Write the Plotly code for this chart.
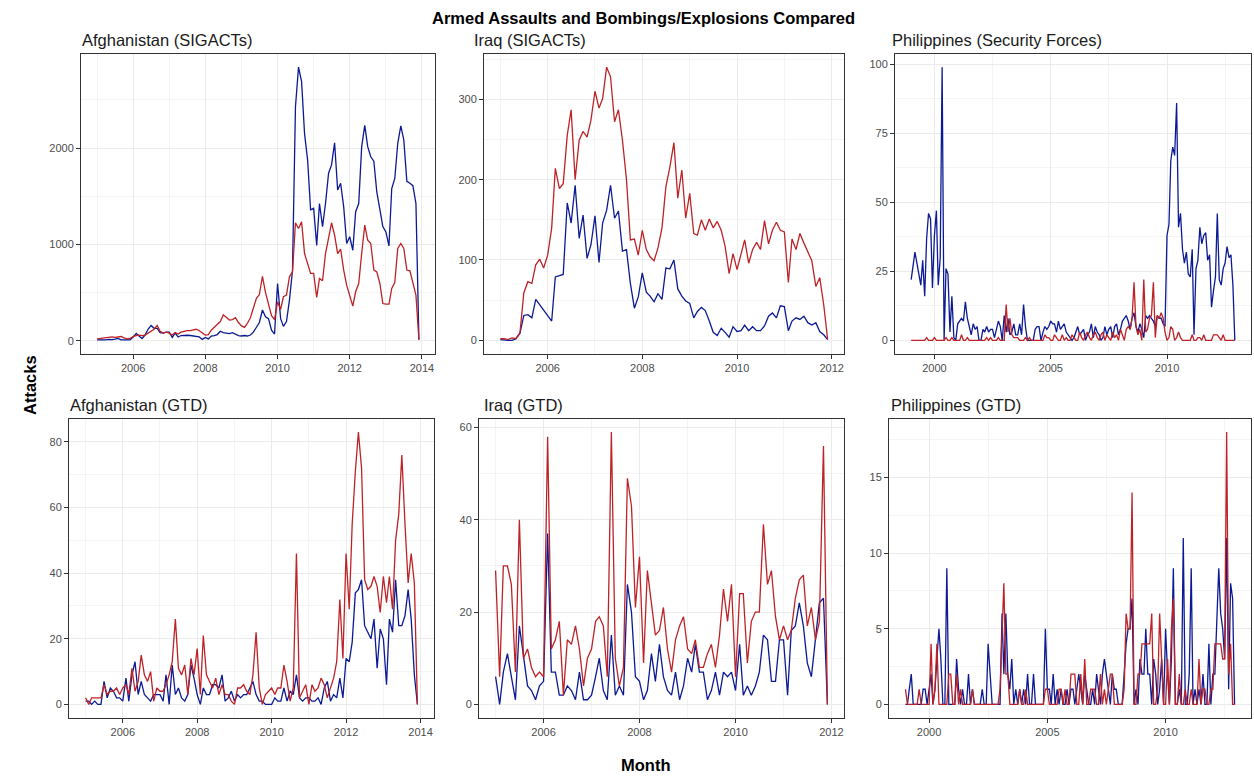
import pandas as pd
import plotly.graph_objects as go

W, H = 1254, 776

# ---------------------------------------------------------------- data
MONTHS_AFG = pd.date_range("2005-01-01", "2013-12-01", freq="MS")
MONTHS_IRQ = pd.date_range("2005-01-01", "2011-12-01", freq="MS")
MONTHS_PHL = pd.date_range("1999-01-01", "2012-12-01", freq="MS")

# Afghanistan, SIGACTs
AFG_SIG_ASSAULT = [
    10, 8, 5, 10, 15, 12, 18, 25, 10, 8, 5, 10,
    40, 76, 50, 24, 60, 120, 160, 130, 130, 85, 80, 90,
    90, 35, 80, 40, 55, 60, 58, 55, 50, 45, 40, 15,
    35, 20, 50, 55, 65, 100, 85, 80, 75, 85, 70, 55,
    50, 55, 50, 60, 90, 140, 190, 320, 250, 230, 110, 70,
    595, 230, 150, 200, 420, 730, 2430, 2840, 2690, 2150, 1875, 1360,
    1375, 990, 1425, 1185, 1425, 1740, 1825, 2055, 1565, 1635, 1390, 1010,
    1080, 940, 1340, 1425, 2015, 2235, 2015, 1910, 1865, 1545, 1355, 1185,
    1130, 985, 1580, 1685, 2050, 2230, 2085, 1655, 1635, 1610, 1425, 10,
]
AFG_SIG_BOMBING = [
    20, 25, 30, 28, 35, 40, 35, 40, 45, 30, 20, 25,
    45, 55, 60, 55, 60, 80, 100, 120, 160, 100, 80, 90,
    80, 60, 85, 70, 90, 100, 105, 105, 110, 120, 105, 80,
    60, 65, 110, 140, 170, 200, 270, 240, 215, 220, 240, 190,
    155, 140, 180, 240, 330, 440, 480, 670, 500, 380, 260, 220,
    405, 325, 457, 474, 664, 716, 1225, 1166, 1235, 906, 803, 699,
    699, 450, 647, 623, 906, 1080, 1225, 1097, 906, 951, 734, 578,
    474, 360, 509, 595, 906, 1200, 1045, 1010, 734, 716, 595, 387,
    380, 380, 543, 605, 958, 1010, 958, 734, 726, 612, 474, 14,
]

# Iraq, SIGACTs
IRQ_SIG_ASSAULT = [
    1, 0, 0, 0, 2, 9, 31, 32, 28, 51, 44, 38,
    30, 24, 79, 81, 82, 171, 146, 193, 127, 156, 102, 119,
    155, 97, 146, 162, 193, 152, 161, 111, 113, 71, 40, 54,
    84, 60, 55, 48, 58, 51, 90, 89, 100, 64, 55, 49,
    46, 28, 36, 41, 37, 24, 10, 6, 15, 10, 4, 17,
    11, 12, 19, 12, 17, 12, 12, 18, 30, 34, 28, 43,
    42, 12, 24, 28, 26, 30, 22, 19, 22, 11, 7, 1,
]
IRQ_SIG_BOMBING = [
    2, 2, 1, 3, 2, 9, 59, 73, 71, 94, 101, 90,
    106, 140, 214, 189, 195, 255, 287, 200, 249, 260, 253, 274,
    310, 289, 301, 340, 328, 272, 287, 249, 200, 125, 126, 106,
    137, 113, 104, 99, 115, 140, 191, 216, 246, 177, 212, 152,
    183, 133, 131, 150, 137, 151, 140, 148, 137, 117, 83, 108,
    88, 108, 125, 96, 113, 122, 113, 149, 120, 137, 147, 137,
    135, 72, 126, 113, 133, 121, 111, 99, 67, 78, 44, 1,
]

# Philippines, security forces reporting
PHL_SF_ASSAULT = [
    22, 28, 32, 28, 24, 20, 29, 16, 37, 46, 44, 19,
    38, 47, 20, 30, 99, 0, 26, 24, 3, 16, 1, 0,
    6, 7, 8, 7, 14, 8, 5, 2, 6, 4, 5, 0,
    0, 4, 3, 5, 3, 4, 4, 1, 4, 7, 5, 0,
    9, 3, 8, 2, 3, 6, 2, 2, 6, 2, 13, 5,
    0, 0, 0, 0, 4, 5, 5, 0, 3, 5, 4, 5,
    7, 6, 6, 3, 7, 4, 5, 6, 3, 2, 1, 0,
    1, 3, 5, 2, 3, 4, 0, 2, 3, 6, 1, 5,
    3, 2, 0, 1, 5, 2, 4, 5, 1, 5, 6, 2,
    4, 7, 8, 9, 7, 4, 8, 10, 5, 3, 6, 4,
    1, 9, 8, 9, 8, 7, 5, 9, 8, 8, 6, 5,
    38, 42, 65, 70, 67, 86, 41, 46, 33, 28, 32, 24,
    23, 33, 2, 26, 29, 41, 35, 38, 39, 29, 31, 12,
    18, 23, 46, 22, 20, 26, 28, 34, 30, 31, 20, 0,
]
PHL_SF_BOMBING = [
    0, 0, 0, 0, 0, 0, 0, 0, 1, 0, 0, 0,
    1, 0, 0, 0, 0, 0, 1, 0, 0, 1, 0, 0,
    0, 0, 2, 0, 0, 1, 0, 0, 0, 0, 0, 0,
    0, 0, 0, 1, 0, 1, 0, 0, 0, 1, 0, 0,
    0, 13, 3, 8, 2, 1, 1, 1, 0, 0, 0, 1,
    0, 1, 0, 0, 0, 0, 0, 0, 0, 2, 1, 1,
    0, 0, 2, 1, 0, 0, 2, 0, 1, 0, 0, 2,
    1, 0, 0, 3, 1, 0, 2, 3, 1, 0, 2, 3,
    1, 0, 2, 3, 0, 2, 1, 0, 3, 1, 2, 0,
    4, 2, 0, 4, 5, 4, 8, 21, 5, 2, 4, 0,
    22, 3, 4, 8, 9, 21, 1, 9, 8, 10, 8, 3,
    0, 1, 5, 4, 0, 1, 3, 1, 0, 0, 0, 0,
    0, 2, 0, 0, 1, 1, 0, 2, 0, 0, 0, 0,
    2, 2, 2, 1, 0, 2, 0, 0, 0, 0, 0, 0,
]

# Afghanistan, GTD
AFG_GTD_ASSAULT = [
    1, 1, 0, 1, 0, 0, 7, 2, 5, 4, 2, 2,
    1, 8, 1, 9, 13, 3, 7, 3, 2, 1, 3, 3,
    3, 1, 9, 0, 12, 3, 5, 2, 1, 3, 12, 8,
    3, 0, 5, 3, 3, 6, 6, 5, 9, 1, 2, 4,
    1, 3, 2, 3, 3, 5, 7, 3, 1, 1, 0, 0,
    0, 2, 1, 1, 5, 1, 4, 3, 9, 2, 1, 2,
    2, 1, 1, 2, 0, 5, 7, 1, 3, 2, 8, 2,
    14, 13, 19, 34, 35, 38, 24, 22, 20, 26, 11, 23,
    20, 6, 26, 22, 38, 24, 24, 27, 35, 26, 9, 0,
]
AFG_GTD_BOMBING = [
    2, 0, 2, 2, 2, 2, 6, 3, 4, 4, 5, 3,
    5, 6, 3, 11, 4, 7, 15, 9, 7, 10, 1, 5,
    4, 4, 6, 9, 13, 26, 11, 9, 12, 3, 14, 9,
    17, 3, 21, 9, 7, 5, 8, 3, 6, 3, 3, 1,
    0, 5, 5, 6, 4, 3, 9, 22, 5, 0, 3, 4,
    5, 3, 5, 5, 12, 7, 1, 5, 46, 2, 4, 6,
    0, 6, 4, 5, 8, 6, 2, 5, 8, 13, 32, 14,
    46, 29, 55, 71, 83, 72, 38, 35, 36, 39, 36, 28,
    39, 31, 39, 29, 50, 58, 76, 55, 37, 46, 37, 0,
]

# Iraq, GTD
IRQ_GTD_ASSAULT = [
    6, 0, 7, 11, 6, 1, 17, 10, 4, 3, 1, 4,
    5, 37, 7, 7, 2, 2, 4, 3, 1, 7, 1, 1,
    2, 6, 10, 3, 1, 15, 2, 4, 2, 26, 20, 6,
    5, 1, 3, 11, 5, 13, 6, 3, 2, 7, 1, 4,
    10, 7, 13, 7, 7, 1, 3, 7, 2, 7, 6, 7,
    3, 13, 2, 4, 2, 4, 7, 15, 14, 5, 5, 14,
    14, 2, 16, 17, 22, 17, 9, 6, 14, 22, 23, 0,
]
IRQ_GTD_BOMBING = [
    29, 6, 30, 30, 26, 7, 40, 10, 12, 8, 6, 7,
    6, 58, 12, 14, 18, 2, 14, 13, 17, 12, 4, 10,
    12, 18, 19, 17, 6, 59, 10, 4, 8, 49, 43, 21,
    32, 9, 29, 22, 15, 16, 21, 12, 7, 14, 17, 19,
    12, 11, 14, 8, 8, 11, 13, 8, 15, 25, 18, 26,
    6, 24, 24, 9, 18, 20, 20, 39, 26, 29, 19, 14,
    17, 14, 16, 23, 27, 28, 17, 21, 14, 18, 56, 0,
]

# Philippines, GTD
PHL_GTD_ASSAULT = [
    0, 0, 1, 2, 0, 0, 0, 0, 0, 1, 1, 0,
    1, 2, 0, 1, 3, 5, 3, 0, 0, 9, 0, 0,
    0, 0, 3, 1, 0, 1, 0, 0, 2, 0, 1, 0,
    0, 0, 0, 1, 0, 0, 4, 2, 0, 0, 0, 0,
    0, 6, 2, 6, 2, 1, 3, 0, 1, 0, 1, 0,
    1, 0, 2, 0, 0, 2, 0, 0, 0, 0, 0, 5,
    1, 1, 0, 2, 0, 1, 0, 1, 0, 0, 1, 0,
    1, 1, 0, 1, 2, 1, 0, 2, 1, 0, 0, 1,
    0, 2, 1, 0, 2, 3, 2, 1, 0, 2, 1, 1,
    0, 0, 0, 2, 4, 5, 5, 7, 0, 1, 0, 3,
    2, 2, 5, 2, 2, 0, 3, 2, 0, 1, 3, 0,
    5, 2, 0, 3, 9, 0, 0, 1, 0, 11, 0, 0,
    2, 9, 0, 1, 0, 1, 0, 2, 0, 0, 4, 0,
    2, 2, 5, 9, 6, 5, 3, 11, 1, 8, 7, 0,
]
PHL_GTD_BOMBING = [
    1, 0, 0, 0, 0, 0, 0, 1, 0, 0, 0, 0,
    0, 4, 0, 1, 4, 0, 0, 0, 0, 0, 2, 2,
    0, 0, 2, 0, 1, 0, 0, 0, 0, 0, 1, 0,
    0, 0, 0, 0, 0, 0, 0, 0, 0, 0, 0, 0,
    1, 5, 8, 2, 2, 0, 0, 0, 0, 0, 1, 0,
    0, 1, 0, 0, 0, 0, 0, 0, 0, 0, 0, 1,
    1, 0, 0, 0, 0, 0, 1, 1, 0, 1, 0, 0,
    2, 2, 2, 0, 0, 2, 0, 3, 0, 0, 1, 1,
    1, 0, 0, 2, 0, 1, 0, 1, 2, 2, 0, 0,
    0, 0, 0, 1, 6, 5, 5, 14, 0, 0, 2, 2,
    4, 4, 4, 4, 4, 6, 0, 0, 1, 6, 3, 0,
    0, 3, 0, 5, 7, 0, 0, 2, 0, 0, 1, 0,
    0, 1, 0, 0, 0, 3, 0, 1, 1, 0, 0, 1,
    1, 4, 4, 4, 4, 3, 3, 18, 2, 4, 0, 0,
]

TITLE = "Armed Assaults and Bombings/Explosions Compared"
PANEL_TITLES = [
    "Afghanistan (SIGACTs)", "Iraq (SIGACTs)", "Philippines (Security Forces)",
    "Afghanistan (GTD)", "Iraq (GTD)", "Philippines (GTD)",
]
SERIES = [
    (MONTHS_AFG, AFG_SIG_ASSAULT, AFG_SIG_BOMBING),
    (MONTHS_IRQ, IRQ_SIG_ASSAULT, IRQ_SIG_BOMBING),
    (MONTHS_PHL, PHL_SF_ASSAULT, PHL_SF_BOMBING),
    (MONTHS_AFG, AFG_GTD_ASSAULT, AFG_GTD_BOMBING),
    (MONTHS_IRQ, IRQ_GTD_ASSAULT, IRQ_GTD_BOMBING),
    (MONTHS_PHL, PHL_GTD_ASSAULT, PHL_GTD_BOMBING),
]

# ---------------------------------------------------------------- layout
# panel boxes in pixels: (left, right, top, bottom)
BOXES = [
    (81, 435, 53.5, 354), (484, 844, 53.5, 354), (895, 1251, 53.5, 354),
    (69, 434, 418.5, 718), (479, 844, 418.5, 718), (889, 1251, 418.5, 718),
]
# left pixel of each panel caption
CAPTION_X = [80, 472, 890, 68, 482, 889]
# major y step, x tick spacing (months) and first x tick
Y_STEP = [1000, 100, 25, 20, 20, 5]
X_TICK = [
    (24, "2006-01-01"), (24, "2006-01-01"), (60, "2000-01-01"),
    (24, "2006-01-01"), (24, "2006-01-01"), (60, "2000-01-01"),
]

COL_ASSAULT = "#0B1A94"
COL_BOMB = "#BD2227"
FONT = "Liberation Sans, Arial, Helvetica, sans-serif"
GRID = "#EBEBEB"
GRID_MINOR = "#F4F4F4"
BORDER = "#333333"
TICK_FONT = dict(family=FONT, size=11, color="#4D4D4D")

fig = go.Figure()
annotations = []

for k in range(6):
    months, assault, bomb = SERIES[k]
    sfx = "" if k == 0 else str(k + 1)
    fig.add_trace(go.Scatter(x=months, y=assault, mode="lines", name="Armed Assault",
                             line=dict(color=COL_ASSAULT, width=1.3),
                             xaxis="x" + sfx, yaxis="y" + sfx, showlegend=False))
    fig.add_trace(go.Scatter(x=months, y=bomb, mode="lines", name="Bombing/Explosion",
                             line=dict(color=COL_BOMB, width=1.3),
                             xaxis="x" + sfx, yaxis="y" + sfx, showlegend=False))

    left, right, top, bottom = BOXES[k]
    xdom = [left / W, right / W]
    ydom = [1 - bottom / H, 1 - top / H]

    # ggplot-style 5% expansion of the data range
    t0, t1 = months[0], months[-1]
    pad = (t1 - t0) * 0.05
    xr = [t0 - pad, t1 + pad]
    ymax = max(max(assault), max(bomb))
    ymin = min(min(assault), min(bomb))
    ypad = (ymax - ymin) * 0.05
    yr = [ymin - ypad, ymax + ypad]

    mstep, tick0 = X_TICK[k]
    fig.layout["xaxis" + sfx] = dict(
        domain=xdom, anchor="y" + sfx, type="date", range=xr,
        tick0=tick0, dtick="M%d" % mstep, tickformat="%Y",
        showgrid=True, gridcolor=GRID, gridwidth=1,
        minor=dict(dtick="M%d" % (mstep // 2), tick0=tick0, showgrid=True,
                   gridcolor=GRID_MINOR, gridwidth=0.6),
        showline=True, mirror=True, linecolor=BORDER, linewidth=1,
        ticks="outside", ticklen=4, tickcolor=BORDER, tickwidth=1,
        tickfont=TICK_FONT, zeroline=False, fixedrange=True,
    )
    fig.layout["yaxis" + sfx] = dict(
        domain=ydom, anchor="x" + sfx, range=yr,
        tick0=0, dtick=Y_STEP[k], tickformat="d",
        showgrid=True, gridcolor=GRID, gridwidth=1,
        minor=dict(dtick=Y_STEP[k] / 2, tick0=0, showgrid=True,
                   gridcolor=GRID_MINOR, gridwidth=0.6),
        showline=True, mirror=True, linecolor=BORDER, linewidth=1,
        ticks="outside", ticklen=4, tickcolor=BORDER, tickwidth=1,
        tickfont=TICK_FONT, zeroline=False, fixedrange=True,
    )

    annotations.append(dict(
        text=PANEL_TITLES[k], x=CAPTION_X[k] / W, y=1 - (top - 14) / H,
        xref="paper", yref="paper", xanchor="left", yanchor="middle",
        showarrow=False, font=dict(family=FONT, size=16.5, color="#1A1A1A"),
    ))

annotations += [
    dict(text=TITLE, x=643 / W, y=1 - 18 / H, xref="paper", yref="paper",
         xanchor="center", yanchor="middle", showarrow=False,
         font=dict(family=FONT, size=16.5, color="black", weight="bold")),
    dict(text="Attacks", x=30 / W, y=1 - 385 / H, xref="paper", yref="paper",
         xanchor="center", yanchor="middle", showarrow=False, textangle=-90,
         font=dict(family=FONT, size=16.5, color="black", weight="bold")),
    dict(text="Month", x=645 / W, y=1 - 765 / H, xref="paper", yref="paper",
         xanchor="center", yanchor="middle", showarrow=False,
         font=dict(family=FONT, size=16.5, color="black", weight="bold")),
]

fig.update_layout(
    width=W, height=H, margin=dict(l=0, r=0, t=0, b=0),
    paper_bgcolor="white", plot_bgcolor="white",
    annotations=annotations, showlegend=False,
    font=dict(family=FONT),
)

fig.write_html("out.html", config={"displayModeBar": False})
